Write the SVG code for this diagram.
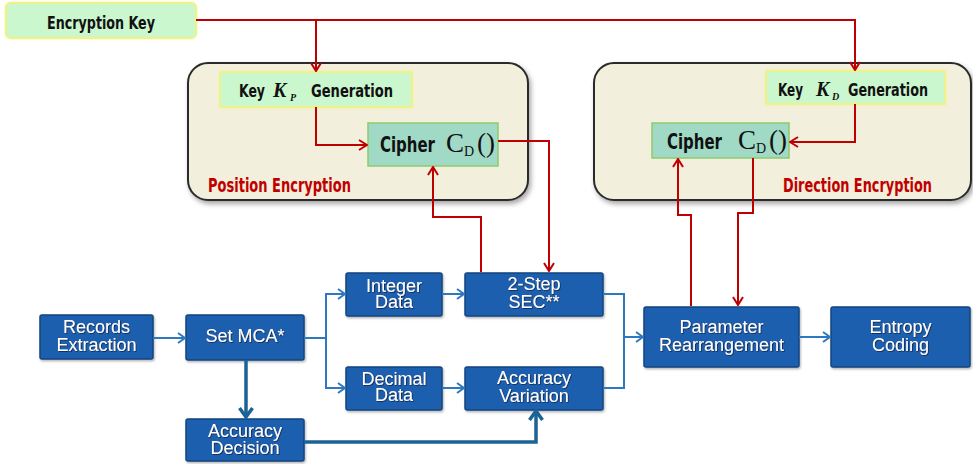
<svg xmlns="http://www.w3.org/2000/svg" width="973" height="464" viewBox="0 0 973 464">
  <defs>
    <filter id="boxShadow" x="-10%" y="-10%" width="125%" height="130%">
      <feDropShadow dx="2" dy="3" stdDeviation="2.5" flood-color="#000" flood-opacity="0.35"/>
    </filter>
    <filter id="softShadow" x="-10%" y="-10%" width="125%" height="130%">
      <feDropShadow dx="1" dy="1.5" stdDeviation="1" flood-color="#000" flood-opacity="0.3"/>
    </filter>
    <filter id="textShadow" x="-10%" y="-20%" width="120%" height="150%">
      <feDropShadow dx="0.8" dy="0.8" stdDeviation="0.4" flood-color="#0b1f3c" flood-opacity="0.9"/>
    </filter>
    <filter id="glow" x="-10%" y="-20%" width="120%" height="140%">
      <feGaussianBlur in="SourceAlpha" stdDeviation="1.2" result="b"/>
      <feFlood flood-color="#f4f48a" result="c"/>
      <feComposite in="c" in2="b" operator="in" result="g"/>
      <feMerge><feMergeNode in="g"/><feMergeNode in="SourceGraphic"/></feMerge>
    </filter>
    <marker id="redArrow" viewBox="0 0 12 12" refX="11" refY="6" markerWidth="12" markerHeight="12" markerUnits="userSpaceOnUse" orient="auto">
      <path d="M3,1 L11,6 L3,11" fill="none" stroke="#c00000" stroke-width="2"/>
    </marker>
    <marker id="blueArrow" viewBox="0 0 12 12" refX="11" refY="6" markerWidth="12" markerHeight="12" markerUnits="userSpaceOnUse" orient="auto">
      <path d="M4,1 L11,6 L4,11" fill="none" stroke="#2e78c0" stroke-width="2"/>
    </marker>
    <marker id="thickArrow" viewBox="0 0 16 16" refX="14" refY="8" markerWidth="16" markerHeight="16" markerUnits="userSpaceOnUse" orient="auto">
      <path d="M5,1.5 L14,8 L5,14.5" fill="none" stroke="#1b6394" stroke-width="3.5"/>
    </marker>
  </defs>
  <style>
    .keybox { fill: #cbf7cf; stroke: #eef28a; stroke-width: 2; }
    .cipher { fill: #a0dac6; stroke: #8fca6e; stroke-width: 1.5; }
    .group { fill: #f2efdc; stroke: #2b2b2b; stroke-width: 2; }
    .blue { fill: #1f5fae; stroke: #16457f; stroke-width: 1.5; }
    .cond { font-family: "Liberation Sans Narrow", "DejaVu Sans Condensed", "Roboto Condensed", sans-serif; font-weight: bold; fill: #111; }
    .red { fill: #c00000; }
    .serif { font-family: "Liberation Serif", "DejaVu Serif", serif; fill: #111; }
    .lbl { font-family: "Liberation Sans", Arial, sans-serif; font-size: 18px; fill: #fff; text-anchor: middle; }
    .rline { fill: none; stroke: #c00000; stroke-width: 2; }
    .bline { fill: none; stroke: #2e78c0; stroke-width: 2; }
    .tline { fill: none; stroke: #1b6394; stroke-width: 3.5; }
  </style>

  <!-- encryption groups -->
  <g id="position-encryption">
    <rect class="group" x="188" y="63" width="340" height="137" rx="20" filter="url(#boxShadow)"/>
    <text class="cond red" x="208" y="192" font-size="19" textLength="143" lengthAdjust="spacingAndGlyphs">Position Encryption</text>
  </g>
  <g id="direction-encryption">
    <rect class="group" x="594" y="63" width="377" height="137" rx="20" filter="url(#boxShadow)"/>
    <text class="cond red" x="783" y="192" font-size="19" textLength="149" lengthAdjust="spacingAndGlyphs">Direction Encryption</text>
  </g>

  <g id="encryption-key">
    <rect class="keybox" x="6" y="3" width="190" height="35" rx="5" filter="url(#glow)"/>
    <text class="cond" x="47" y="29" font-size="18" textLength="108" lengthAdjust="spacingAndGlyphs">Encryption Key</text>
  </g>

  <g id="key-kp">
    <rect class="keybox" x="220" y="72" width="192" height="35" rx="2" filter="url(#glow)"/>
    <text class="cond" x="239" y="97" font-size="18" textLength="26" lengthAdjust="spacingAndGlyphs">Key</text>
    <text class="serif" x="273" y="97" font-size="20" font-style="italic" font-weight="bold">K</text>
    <text class="serif" x="290" y="101" font-size="10" font-style="italic" font-weight="bold">P</text>
    <text class="cond" x="311" y="97" font-size="18" textLength="82" lengthAdjust="spacingAndGlyphs">Generation</text>
  </g>

  <g id="cipher-p">
    <rect class="cipher" x="368" y="123" width="130" height="43"/>
    <text class="cond" x="380" y="152" font-size="21" textLength="55" lengthAdjust="spacingAndGlyphs">Cipher</text>
    <text class="serif" x="446" y="152" font-size="27">C</text>
    <text class="serif" x="464" y="156" font-size="14">D</text>
    <text class="serif" x="477" y="152" font-size="27">()</text>
  </g>

  <g id="key-kd">
    <rect class="keybox" x="766" y="71" width="179" height="33" rx="2" filter="url(#glow)"/>
    <text class="cond" x="778" y="96" font-size="18" textLength="25" lengthAdjust="spacingAndGlyphs">Key</text>
    <text class="serif" x="816" y="96" font-size="20" font-style="italic" font-weight="bold">K</text>
    <text class="serif" x="832" y="100" font-size="10" font-style="italic" font-weight="bold">D</text>
    <text class="cond" x="848" y="96" font-size="18" textLength="80" lengthAdjust="spacingAndGlyphs">Generation</text>
  </g>

  <g id="cipher-d">
    <rect class="cipher" x="652" y="123" width="137" height="35"/>
    <text class="cond" x="667" y="149" font-size="21" textLength="55" lengthAdjust="spacingAndGlyphs">Cipher</text>
    <text class="serif" x="738" y="149" font-size="27">C</text>
    <text class="serif" x="756" y="153" font-size="14">D</text>
    <text class="serif" x="769" y="149" font-size="27">()</text>
  </g>

  <!-- processing pipeline -->
  <g id="records-extraction" filter="url(#softShadow)">
    <rect class="blue" x="40" y="315" width="113" height="44" rx="2"/>
    <text class="lbl" filter="url(#textShadow)"><tspan x="96.5" y="333">Records</tspan><tspan x="96.5" y="351">Extraction</tspan></text>
  </g>
  <g id="set-mca" filter="url(#softShadow)">
    <rect class="blue" x="186" y="315" width="118" height="45" rx="2"/>
    <text class="lbl" x="245" y="342" filter="url(#textShadow)">Set MCA*</text>
  </g>
  <g id="integer-data" filter="url(#softShadow)">
    <rect class="blue" x="346" y="273" width="96" height="43" rx="2"/>
    <text class="lbl" filter="url(#textShadow)"><tspan x="394" y="291.5">Integer</tspan><tspan x="394" y="308">Data</tspan></text>
  </g>
  <g id="decimal-data" filter="url(#softShadow)">
    <rect class="blue" x="346" y="367" width="96" height="43" rx="2"/>
    <text class="lbl" filter="url(#textShadow)"><tspan x="394" y="384.5">Decimal</tspan><tspan x="394" y="401">Data</tspan></text>
  </g>
  <g id="two-step-sec" filter="url(#softShadow)">
    <rect class="blue" x="465" y="273" width="138" height="43" rx="2"/>
    <text class="lbl" filter="url(#textShadow)"><tspan x="534" y="290">2-Step</tspan><tspan x="534" y="308">SEC**</tspan></text>
  </g>
  <g id="accuracy-variation" filter="url(#softShadow)">
    <rect class="blue" x="465" y="367" width="138" height="43" rx="2"/>
    <text class="lbl" filter="url(#textShadow)"><tspan x="534" y="384">Accuracy</tspan><tspan x="534" y="402">Variation</tspan></text>
  </g>
  <g id="accuracy-decision" filter="url(#softShadow)">
    <rect class="blue" x="186" y="419" width="118" height="42" rx="2"/>
    <text class="lbl" filter="url(#textShadow)"><tspan x="245" y="437">Accuracy</tspan><tspan x="245" y="453.5">Decision</tspan></text>
  </g>
  <g id="parameter-rearrangement" filter="url(#softShadow)">
    <rect class="blue" x="644" y="307" width="155" height="60" rx="2"/>
    <text class="lbl" filter="url(#textShadow)"><tspan x="721.5" y="333">Parameter</tspan><tspan x="721.5" y="350.5">Rearrangement</tspan></text>
  </g>
  <g id="entropy-coding" filter="url(#softShadow)">
    <rect class="blue" x="831" y="307" width="139" height="60" rx="2"/>
    <text class="lbl" filter="url(#textShadow)"><tspan x="900.5" y="333">Entropy</tspan><tspan x="900.5" y="350.5">Coding</tspan></text>
  </g>

  <!-- connectors -->
  <g id="connectors">
    <path class="rline" d="M196,20 H855 V70" marker-end="url(#redArrow)"/>
    <path class="rline" d="M316,20 V71" marker-end="url(#redArrow)"/>
    <path class="rline" d="M316,107 V145 H367" marker-end="url(#redArrow)"/>
    <path class="rline" d="M498,141 H549 V271" marker-end="url(#redArrow)"/>
    <path class="rline" d="M481,272 V217 H433 V167" marker-end="url(#redArrow)"/>
    <path class="rline" d="M855,104 V142 H790" marker-end="url(#redArrow)"/>
    <path class="rline" d="M691,306 V215 H678 V159" marker-end="url(#redArrow)"/>
    <path class="rline" d="M753,158 V213 H738 V305" marker-end="url(#redArrow)"/>

    <path class="bline" d="M153,338 H185" marker-end="url(#blueArrow)"/>
    <path class="bline" d="M304,338 H326"/>
    <path class="bline" d="M345,294 H326 V388 H345"/>
    <path class="bline" d="M330,294 H345" marker-end="url(#blueArrow)"/>
    <path class="bline" d="M330,388 H345" marker-end="url(#blueArrow)"/>
    <path class="bline" d="M442,294 H464" marker-end="url(#blueArrow)"/>
    <path class="bline" d="M442,388 H464" marker-end="url(#blueArrow)"/>
    <path class="bline" d="M603,294 H624 V388 H603"/>
    <path class="bline" d="M624,337 H643" marker-end="url(#blueArrow)"/>
    <path class="bline" d="M799,337 H830" marker-end="url(#blueArrow)"/>

    <path class="tline" d="M246,360 V417" marker-end="url(#thickArrow)"/>
    <path class="tline" d="M304,442 H536 V411" marker-end="url(#thickArrow)"/>
  </g>
</svg>
